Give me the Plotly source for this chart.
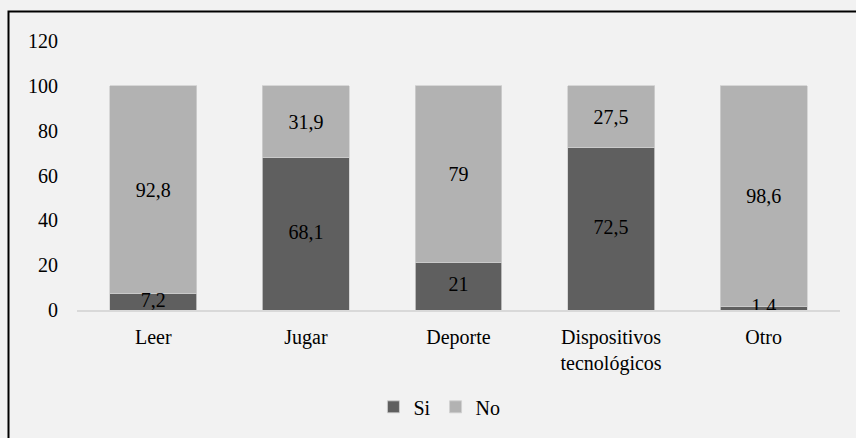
import plotly.graph_objects as go

categories = ["Leer", "Jugar", "Deporte", "Dispositivos<br>tecnológicos", "Otro"]
si_values = [7.2, 68.1, 21, 72.5, 1.4]
no_values = [92.8, 31.9, 79, 27.5, 98.6]
y_ticks = [0, 20, 40, 60, 80, 100, 120]

def fmt(v):
    return str(v).replace(".", ",")

FONT = "Liberation Serif"
FS = 20

fig = go.Figure()
fig.add_trace(go.Bar(
    x=categories, y=si_values, name="Si",
    marker=dict(color="#5F5F5F", line=dict(color="#D0D0D0", width=0.8)),
))
fig.add_trace(go.Bar(
    x=categories, y=no_values, name="No",
    marker=dict(color="#B2B2B2", line=dict(color="#D0D0D0", width=0.8)),
    text=[fmt(v) for v in no_values], textposition="inside",
    insidetextanchor="middle", textfont=dict(color="#000000", size=FS, family=FONT),
    constraintext="none",
))
# Si labels drawn on top (centered in each Si segment)
fig.add_trace(go.Scatter(
    x=categories, y=[v / 2 for v in si_values], mode="text",
    text=[fmt(v) for v in si_values], textposition="middle center",
    textfont=dict(color="#000000", size=FS, family=FONT),
    showlegend=False, hoverinfo="skip",
))

L, R, T, B = 77, 16, 41, 128
W, H = 856, 438
pw = W - L - R
ph = H - T - B

fig.update_layout(
    width=W, height=H,
    barmode="stack", bargap=0.43,
    paper_bgcolor="#F2F2F2", plot_bgcolor="#F2F2F2",
    margin=dict(l=L, r=R, t=T, b=B),
    font=dict(family=FONT, size=FS, color="#000000"),
    uniformtext=dict(minsize=FS, mode="show"),
    showlegend=True,
    legend=dict(orientation="h", x=0.475, xanchor="center", y=-0.36, yanchor="middle",
                font=dict(size=FS, family=FONT), itemwidth=30, traceorder="normal",
                tracegroupgap=0),
    xaxis=dict(showgrid=False, showline=True, linecolor="#D9D9D9", linewidth=1.5,
               ticks="", ticklabelstandoff=8, tickfont=dict(size=FS, family=FONT)),
    yaxis=dict(range=[0, 120], tickvals=y_ticks, showgrid=False, showline=False,
               zeroline=False, ticks="", ticklabelstandoff=18,
               tickfont=dict(size=FS, family=FONT)),
    shapes=[dict(
        type="rect", xref="paper", yref="paper",
        x0=(8.5 - L) / pw, x1=(W + 20 - L) / pw,
        y0=-(B + 20) / ph, y1=(H - B - 11.5) / ph,
        line=dict(color="#000000", width=2), fillcolor="rgba(0,0,0,0)", layer="below",
    )],
)

fig.write_html("out.html")
